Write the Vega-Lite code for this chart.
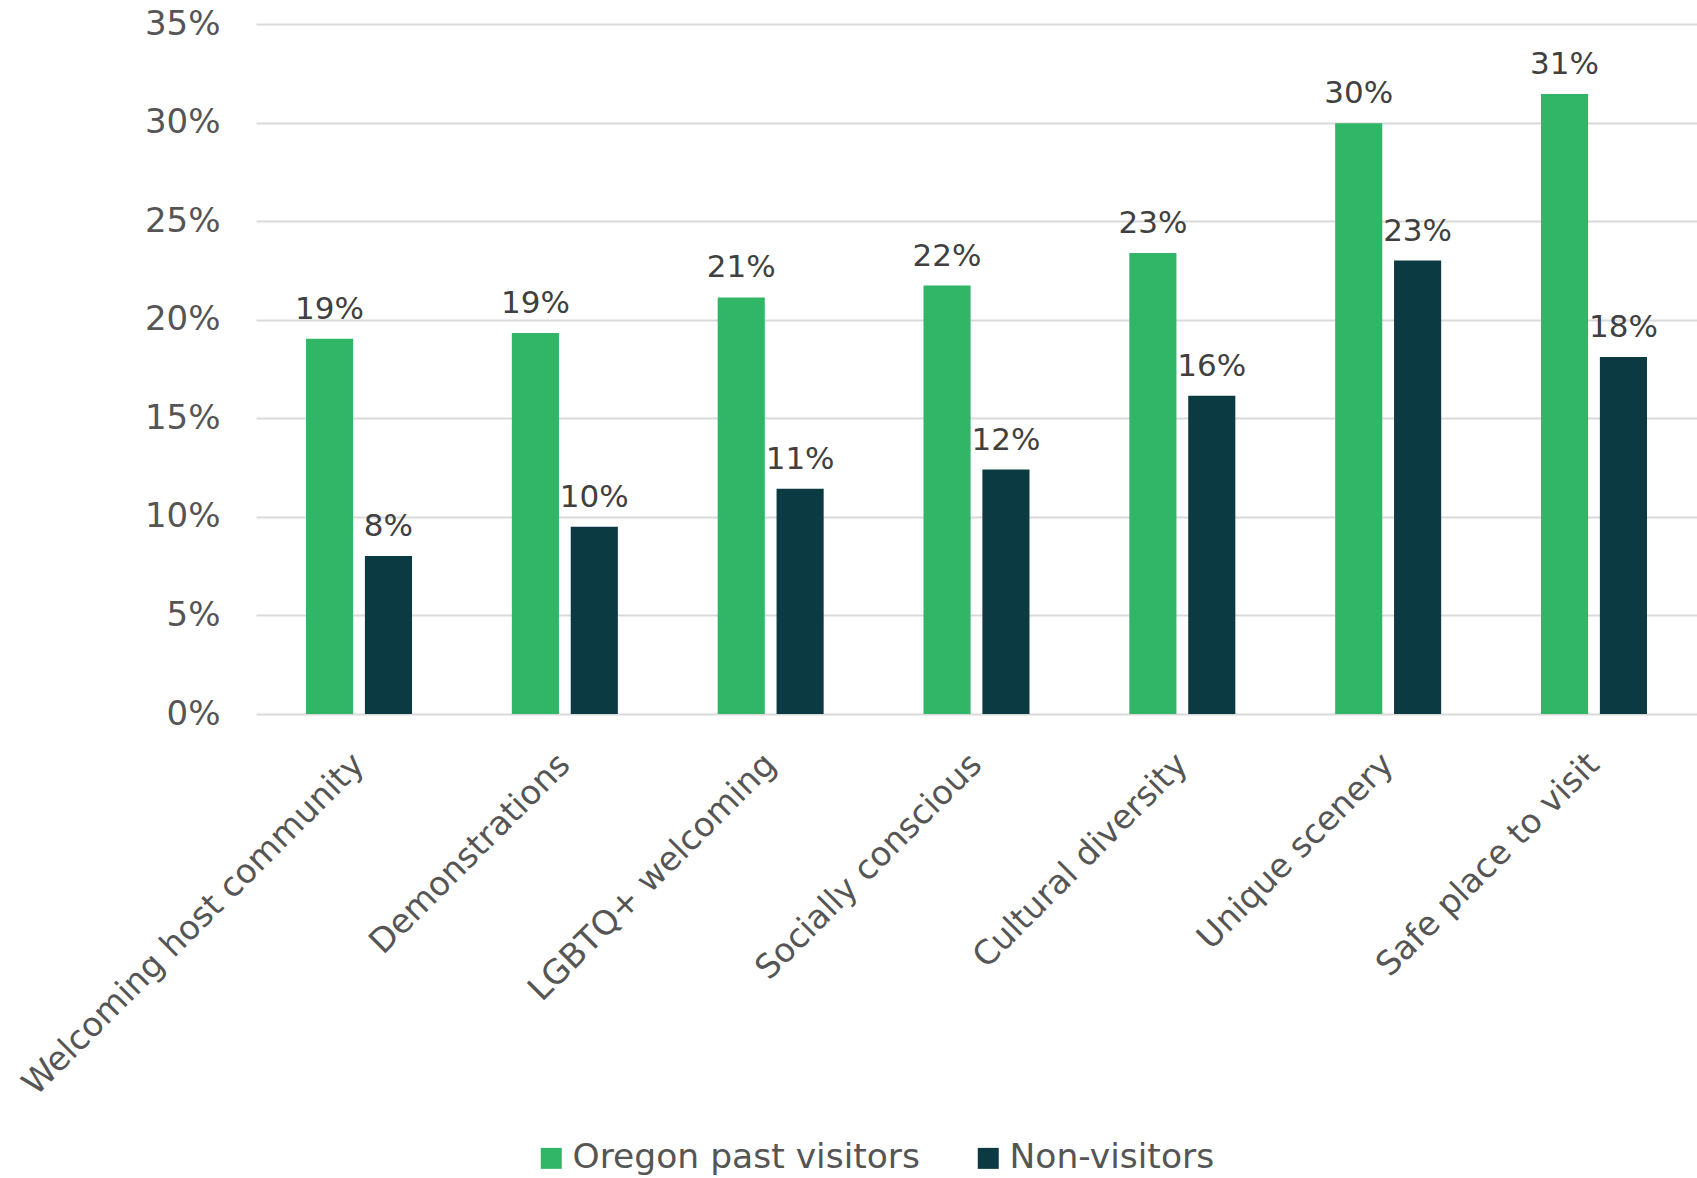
{
  "$schema": "https://vega.github.io/schema/vega-lite/v6.json",
  "autosize": "none",
  "width": 1441,
  "height": 690,
  "padding": {"left": 256, "top": 24, "right": 0, "bottom": 464},
  "background": "white",
  "config": {
    "font": "DejaVu Sans",
    "view": {"stroke": null}
  },
  "data": {
    "values": [
      {"attribute": "Welcoming host community", "group": "Oregon past visitors", "value": 0.1904},
      {"attribute": "Welcoming host community", "group": "Non-visitors", "value": 0.0801},
      {"attribute": "Demonstrations", "group": "Oregon past visitors", "value": 0.1932},
      {"attribute": "Demonstrations", "group": "Non-visitors", "value": 0.0950},
      {"attribute": "LGBTQ+ welcoming", "group": "Oregon past visitors", "value": 0.2113},
      {"attribute": "LGBTQ+ welcoming", "group": "Non-visitors", "value": 0.1142},
      {"attribute": "Socially conscious", "group": "Oregon past visitors", "value": 0.2173},
      {"attribute": "Socially conscious", "group": "Non-visitors", "value": 0.1240},
      {"attribute": "Cultural diversity", "group": "Oregon past visitors", "value": 0.2338},
      {"attribute": "Cultural diversity", "group": "Non-visitors", "value": 0.1614},
      {"attribute": "Unique scenery", "group": "Oregon past visitors", "value": 0.2997},
      {"attribute": "Unique scenery", "group": "Non-visitors", "value": 0.2300},
      {"attribute": "Safe place to visit", "group": "Oregon past visitors", "value": 0.3145},
      {"attribute": "Safe place to visit", "group": "Non-visitors", "value": 0.1811}
    ]
  },
  "encoding": {
    "x": {
      "field": "attribute",
      "type": "nominal",
      "sort": null,
      "title": null,
      "scale": {"paddingInner": 0.485, "paddingOuter": 0.243},
      "axis": {
        "labelAngle": -45,
        "labelAlign": "right",
        "labelBaseline": "middle",
        "labelFontSize": 33.5,
        "labelColor": "#555555",
        "labelPadding": 45,
        "ticks": false,
        "domain": false,
        "labelLimit": 800
      }
    },
    "xOffset": {
      "field": "group",
      "type": "nominal",
      "sort": ["Oregon past visitors", "Non-visitors"],
      "scale": {"paddingInner": 0.2, "paddingOuter": 0}
    },
    "y": {
      "field": "value",
      "type": "quantitative",
      "title": null,
      "scale": {"domain": [0, 0.35], "nice": false},
      "axis": {
        "values": [0, 0.05, 0.1, 0.15, 0.2, 0.25, 0.3, 0.35],
        "format": ".0%",
        "labelFontSize": 34,
        "labelColor": "#555555",
        "labelPadding": 36,
        "ticks": false,
        "domain": false,
        "gridColor": "#d9d9d9",
        "gridWidth": 2
      }
    }
  },
  "layer": [
    {
      "mark": {"type": "bar"},
      "encoding": {
        "color": {
          "field": "group",
          "type": "nominal",
          "sort": ["Oregon past visitors", "Non-visitors"],
          "scale": {"domain": ["Oregon past visitors", "Non-visitors"], "range": ["#31B567", "#0C3A42"]},
          "legend": {
            "title": null,
            "orient": "none",
            "legendX": 278,
            "legendY": 1117,
            "direction": "horizontal",
            "columns": 2,
            "symbolType": "square",
            "symbolSize": 441,
            "symbolStrokeWidth": 0,
            "labelFontSize": 34.5,
            "labelColor": "#555555",
            "labelLimit": 1000,
            "columnPadding": 50,
            "labelOffset": 4
          }
        }
      }
    },
    {
      "mark": {"type": "text", "dy": -20, "fontSize": 31, "color": "#404040", "baseline": "alphabetic"},
      "encoding": {
        "text": {"field": "value", "type": "quantitative", "format": ".0%"}
      }
    }
  ]
}
